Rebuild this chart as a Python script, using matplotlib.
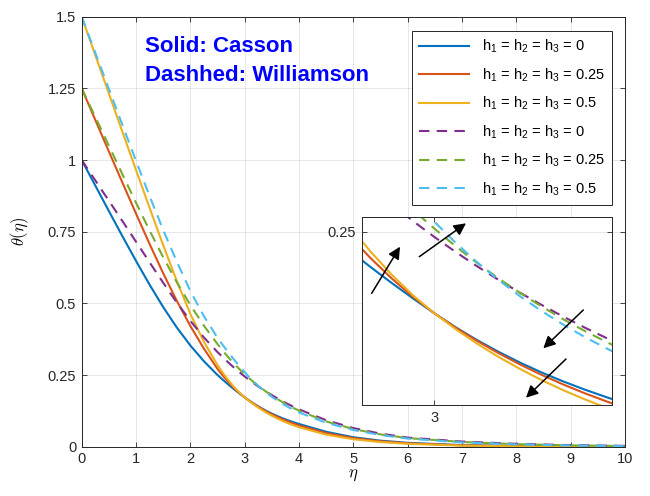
import matplotlib
matplotlib.use('Agg')
import matplotlib.pyplot as plt

plt.rcParams['font.family'] = ['Liberation Sans', 'DejaVu Sans']
plt.rcParams['mathtext.fontset'] = 'custom'
plt.rcParams['mathtext.rm'] = 'Liberation Sans'
plt.rcParams['mathtext.it'] = 'Liberation Sans:italic'
plt.rcParams['mathtext.bf'] = 'Liberation Sans:bold'

# similarity variable
eta = [0, 0.25, 0.5, 0.75, 1.0, 1.25, 1.5, 1.75, 2.0, 2.25, 2.5,
       2.6, 2.7, 2.8, 2.9, 3.0, 3.1, 3.2, 3.3, 3.4, 3.5, 3.6, 3.7, 3.8, 3.9, 4.0,
       4.5, 5.0, 5.5, 6.0, 7.0, 8.0, 9.0, 10.0]

# Casson (solid)
casson_h0 = [1.000, 0.911, 0.822, 0.734, 0.648, 0.565, 0.487, 0.416, 0.353, 0.298, 0.250,
             0.2330, 0.2167, 0.2012, 0.1863, 0.1720, 0.1585, 0.1462, 0.1350, 0.1247, 0.1153,
             0.1068, 0.0990, 0.0918, 0.0853, 0.0793,
             0.052, 0.033, 0.021, 0.0135, 0.0055, 0.0022, 0.0009, 0.0003]
casson_h025 = [1.25, 1.140, 1.030, 0.921, 0.813, 0.707, 0.605, 0.509, 0.421, 0.342, 0.2713,
               0.2473, 0.2254, 0.2056, 0.1878, 0.1720, 0.1581, 0.1454, 0.1337, 0.1229, 0.1130,
               0.1039, 0.0955, 0.0878, 0.0807, 0.0742,
               0.0475, 0.030, 0.019, 0.012, 0.0047, 0.0018, 0.0007, 0.0002]
casson_h05 = [1.5, 1.366, 1.232, 1.098, 0.965, 0.833, 0.703, 0.578, 0.463, 0.366, 0.2845,
              0.2568, 0.2317, 0.2092, 0.1893, 0.1720, 0.1567, 0.1428, 0.1301, 0.1186, 0.1080,
              0.0984, 0.0897, 0.0817, 0.0745, 0.0678,
              0.042, 0.026, 0.016, 0.010, 0.0037, 0.0013, 0.0005, 0.0001]

# Williamson (dashed)
will_h0 = [1.0, 0.929, 0.858, 0.787, 0.715, 0.643, 0.572, 0.503, 0.439, 0.381, 0.330,
           0.3115, 0.2935, 0.2765, 0.2603, 0.2450, 0.2305, 0.2168, 0.2038, 0.1915, 0.1799,
           0.1688, 0.1583, 0.1484, 0.1390, 0.1302,
           0.0925, 0.0650, 0.0455, 0.0318, 0.018, 0.010, 0.0055, 0.003]
will_h025 = [1.25, 1.150, 1.050, 0.950, 0.851, 0.754, 0.661, 0.574, 0.494, 0.422, 0.358,
             0.3343, 0.3118, 0.2906, 0.2710, 0.2530, 0.2359, 0.2200, 0.2051, 0.1913, 0.1784,
             0.1663, 0.1551, 0.1446, 0.1349, 0.1258,
             0.0881, 0.0615, 0.0429, 0.0300, 0.0165, 0.0088, 0.0046, 0.0024]
will_h05 = [1.5, 1.374, 1.248, 1.122, 0.997, 0.874, 0.756, 0.646, 0.543, 0.455, 0.380,
            0.3538, 0.3286, 0.3046, 0.2817, 0.2596, 0.2392, 0.2206, 0.2036, 0.1881, 0.1740,
            0.1611, 0.1493, 0.1385, 0.1286, 0.1195,
            0.0834, 0.0582, 0.0406, 0.0283, 0.0150, 0.0080, 0.0042, 0.0022]

h_values = ['0', '0.25', '0.5']
x_ticks = [0, 1, 2, 3, 4, 5, 6, 7, 8, 9, 10]
y_ticks = [0, 0.25, 0.5, 0.75, 1.0, 1.25, 1.5]
y_ticklabels = ['0', '0.25', '0.5', '0.75', '1', '1.25', '1.5']

series = [casson_h0, casson_h025, casson_h05, will_h0, will_h025, will_h05]
colors = ['#0072BD', '#D95319', '#EDB120', '#7E2F8E', '#77AC30', '#4DBEEE']
dashed = [False, False, False, True, True, True]
labels = ['h$_1$ = h$_2$ = h$_3$ = ' + h for h in h_values] * 2

axis_col = '#262626'


def draw_curves(ax):
    for vals, col, d, lab in zip(series, colors, dashed, labels):
        if d:
            ax.plot(eta, vals, color=col, lw=1.5, dashes=(5, 3.5), label=lab)
        else:
            ax.plot(eta, vals, color=col, lw=1.5, label=lab)


def style_axes(ax, fontsize):
    ax.tick_params(direction='in', top=True, right=True, length=3.6, width=0.6,
                   colors=axis_col, labelsize=fontsize, pad=4)
    for sp in ax.spines.values():
        sp.set_color(axis_col)
        sp.set_linewidth(0.7)
    ax.grid(True, color=axis_col, alpha=0.13, lw=0.6)


fig = plt.figure(figsize=(6.5, 4.96), dpi=100)

# main axes
ax = fig.add_axes([0.1257, 0.0994, 0.8358, 0.8669])
draw_curves(ax)
ax.set_xlim(0, 10)
ax.set_ylim(0, 1.5)
ax.set_xticks(x_ticks)
ax.set_yticks(y_ticks)
ax.set_yticklabels(y_ticklabels)
style_axes(ax, 10.5)
ax.set_xlabel(r'$\eta$', math_fontfamily='cm', fontsize=12, labelpad=1)
ax.set_ylabel(r'$\theta(\eta)$', math_fontfamily='cm', fontsize=12, labelpad=12)

ax.text(0.1165, 0.918, 'Solid: Casson', transform=ax.transAxes, color='#0000FF',
        fontsize=16, fontweight='bold', va='baseline')
ax.text(0.1165, 0.850, 'Dashhed: Williamson', transform=ax.transAxes, color='#0000FF',
        fontsize=16, fontweight='bold', va='baseline')

leg = ax.legend(loc='upper right', bbox_to_anchor=(0.9766, 0.9674), borderaxespad=0,
                fontsize=10.5, handlelength=3.4, handletextpad=0.9, labelspacing=0.76,
                borderpad=0.5, fancybox=False, framealpha=1, edgecolor=axis_col)
leg.get_frame().set_linewidth(0.7)

# inset zoom around eta = 3
ax_in = fig.add_axes([0.5565, 0.1835, 0.3855, 0.3784])
ax_in.set_facecolor('white')
draw_curves(ax_in)
ax_in.set_xlim(2.662, 3.828)
ax_in.set_ylim(0.0843, 0.2638)
ax_in.set_xticks([3])
ax_in.set_yticks([0.25])
ax_in.set_yticklabels(['0.25'])
style_axes(ax_in, 10.5)

# arrows (figure pixel positions: tail, tip)
arrows = [((371.7, 293.3), (400.0, 246.7)),
          ((419.3, 256.7), (466.0, 223.3)),
          ((583.3, 310.0), (543.3, 348.3)),
          ((566.0, 359.0), (526.0, 397.7))]
W, H = 650.0, 496.0
for (tx, ty), (hx, hy) in arrows:
    ax_in.annotate('', xy=(hx / W, 1 - hy / H), xytext=(tx / W, 1 - ty / H),
                   xycoords='figure fraction', textcoords='figure fraction',
                   arrowprops=dict(arrowstyle='-|>', color='black', lw=1.1,
                                   mutation_scale=18, shrinkA=0, shrinkB=0))

fig.savefig('out.png', dpi=100)
